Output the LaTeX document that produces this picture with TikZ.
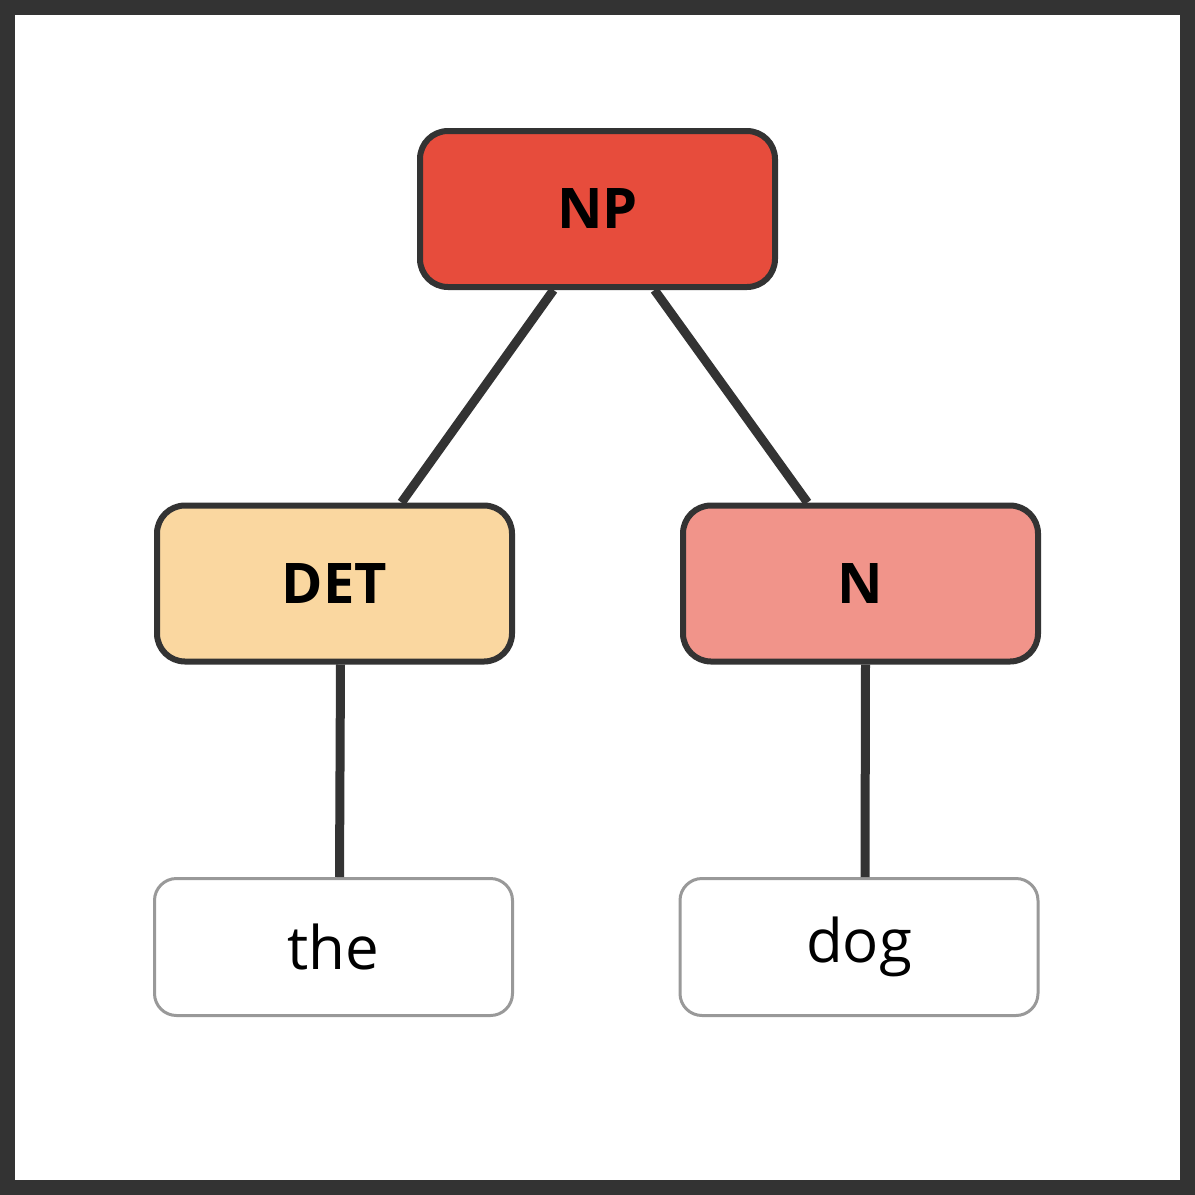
\documentclass[tikz,border=0pt]{standalone}
\usepackage{fontspec}
\setmainfont{Open Sans}
\definecolor{dk}{HTML}{333333}
\definecolor{npc}{HTML}{E74C3C}
\definecolor{detc}{HTML}{FAD7A0}
\definecolor{nc}{HTML}{F1948A}
\definecolor{gr}{HTML}{999999}
\begin{document}
\begin{tikzpicture}[x=1pt,y=-1pt,
  cat/.style={draw=dk,line width=6pt,rounded corners=28pt,minimum width=355pt,minimum height=156pt,font=\fontsize{56}{60}\selectfont\bfseries},
  word/.style={draw=gr,fill=white,line width=3pt,rounded corners=22pt,minimum width=358pt,minimum height=137pt,font=\fontsize{60}{64}\selectfont},
  link/.style={dk,line width=9pt}]
\fill[dk] (0,0) rectangle (1195,1195);
\fill[white] (15,15) rectangle (1180,1180);
\node[cat,fill=npc] (np) at (597.5,209) {NP};
\node[cat,fill=detc] (det) at (334.5,583.5) {DET};
\node[cat,fill=nc] (n) at (860.5,583.5) {N};
\node[word] (the) at (333.5,947) {the};
\node[word] (dog) at (859,947) {dog};
\draw[link] ([xshift=-44pt]np.south) -- ([xshift=67pt]det.north);
\draw[link] ([xshift=57pt]np.south) -- ([xshift=-53pt]n.north);
\draw[link] ([xshift=6pt]det.south) -- ([xshift=6pt]the.north);
\draw[link] ([xshift=5pt]n.south) -- ([xshift=6pt]dog.north);
\end{tikzpicture}
\end{document}
